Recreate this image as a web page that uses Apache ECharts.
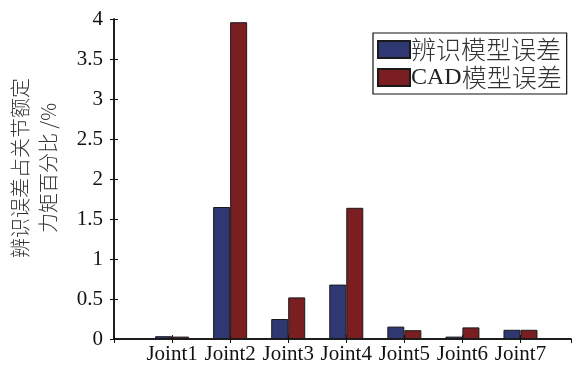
<!DOCTYPE html>
<html>
<head>
<meta charset="utf-8">
<script src="https://cdn.jsdelivr.net/npm/echarts@6/dist/echarts.min.js"></script>
<style>
html,body{margin:0;padding:0;background:#fff;}
#chart{width:576px;height:365px;}
</style>
</head>
<body>
<div id="chart"></div>
<script>
// Joint names along the x axis
const joints = ['Joint1', 'Joint2', 'Joint3', 'Joint4', 'Joint5', 'Joint6', 'Joint7'];
// Torque error as a percentage of rated joint torque
const identifiedError = [0.035, 1.65, 0.25, 0.68, 0.155, 0.03, 0.115];
const cadError = [0.03, 3.96, 0.52, 1.64, 0.11, 0.145, 0.115];
const seriesNames = ['辨识模型误差', 'CAD模型误差'];
const yTicks = [0, 0.5, 1, 1.5, 2, 2.5, 3, 3.5, 4];

const serif = 'Liberation Serif';
const cjk = 'Noto Sans CJK SC';

const toPoints = arr => arr.map((v, i) => [i + 1, v]);

const chart = echarts.init(document.getElementById('chart'), null, {renderer: 'canvas'});

const axisLine = {show: true, lineStyle: {color: '#111', width: 1.5}};

chart.setOption({
  animation: false,
  backgroundColor: '#fff',
  grid: {left: 114, right: 5, top: 19, bottom: 25, containLabel: false},
  xAxis: [
    {
      type: 'value', min: 0, max: 7.87, interval: 1, position: 'bottom',
      axisLine: axisLine,
      axisTick: {show: true, inside: true, length: 4, lineStyle: {color: '#111'}},
      splitLine: {show: false},
      axisLabel: {
        show: true, margin: 5, color: '#111',
        fontFamily: serif, fontSize: 21,
        showMinLabel: true, showMaxLabel: false,
        formatter: v => (Number.isInteger(v) && v >= 1 && v <= joints.length) ? joints[v - 1] : ''
      }
    },
    {
      type: 'value', min: 0, max: 7.87, interval: 1, position: 'top',
      axisLine: axisLine,
      axisTick: {show: true, inside: true, length: 4, lineStyle: {color: '#111'}},
      splitLine: {show: false},
      axisLabel: {show: false}
    }
  ],
  yAxis: [
    {
      type: 'value', min: yTicks[0], max: yTicks[yTicks.length - 1], interval: 0.5, position: 'left',
      axisLine: axisLine,
      axisTick: {show: true, inside: true, length: 4, lineStyle: {color: '#111'}},
      splitLine: {show: false},
      axisLabel: {color: '#111', fontFamily: serif, fontSize: 21, margin: 11}
    },
    {
      type: 'value', min: yTicks[0], max: yTicks[yTicks.length - 1], interval: 0.5, position: 'right',
      axisLine: axisLine,
      axisTick: {show: true, inside: true, length: 4, lineStyle: {color: '#111'}},
      splitLine: {show: false},
      axisLabel: {show: false}
    }
  ],
  legend: {
    left: 373, top: 33,
    orient: 'vertical',
    itemWidth: 32, itemHeight: 17, itemGap: 3,
    padding: [4, 5, 4, 4],
    borderColor: '#111', borderWidth: 1.2,
    backgroundColor: '#fff',
    icon: 'rect',
    data: seriesNames,
    textStyle: {
      color: '#333', fontFamily: cjk, fontSize: 25, fontWeight: 300, padding: [0, 0, 0, -4],
      rich: {
        lat: {fontFamily: serif, fontSize: 24, color: '#222'},
        han: {fontFamily: cjk, fontSize: 25, fontWeight: 300, color: '#333'}
      }
    },
    formatter: name => name.replace(/^([A-Za-z]+)(.*)$/, '{lat|$1}{han|$2}')
  },
  graphic: [
    {
      type: 'text',
      x: 34, y: 168,
      rotation: Math.PI / 2,
      style: {
        text: '辨识误差占关节额定\n力矩百分比 /%',
        fontFamily: cjk, fontSize: 20, fontWeight: 300, lineHeight: 28,
        fill: '#333',
        align: 'center', verticalAlign: 'middle'
      }
    }
  ],
  series: [
    {
      name: seriesNames[0], type: 'bar', xAxisIndex: 0, yAxisIndex: 0,
      data: toPoints(identifiedError),
      barWidth: 17, barGap: '0%',
      itemStyle: {color: '#2f3872', borderColor: '#1a1a1a', borderWidth: 1}
    },
    {
      name: seriesNames[1], type: 'bar', xAxisIndex: 0, yAxisIndex: 0,
      data: toPoints(cadError),
      barWidth: 17, barGap: '0%',
      itemStyle: {color: '#7a1e22', borderColor: '#1a1a1a', borderWidth: 1}
    }
  ]
});
</script>
</body>
</html>
